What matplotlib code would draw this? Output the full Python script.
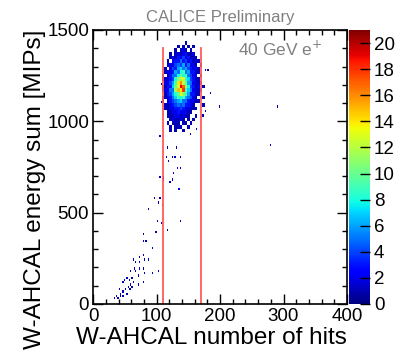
import numpy as np
import matplotlib
matplotlib.use("Agg")
import matplotlib.pyplot as plt
from matplotlib.ticker import MultipleLocator
from matplotlib.colors import Normalize

plt.rcParams['font.family'] = ['Liberation Sans', 'DejaVu Sans']

# ---- data ----
# dense core: counts per cell (columns = hit bins, rows = energy bins, top -> bottom)
core_x_edges = [108, 112, 116, 120, 124, 128, 132, 136, 140, 144, 148, 152, 156, 160, 164, 168, 172, 176]
core_y_top = 1440
core_y_step = 20
core_counts = [
    [0, 0, 0, 0, 0, 0, 0, 0, 0, 1, 0, 0, 0, 0, 0, 0, 0],
    [0, 0, 0, 0, 0, 0, 1, 0, 1, 0, 1, 0, 1, 0, 0, 0, 0],
    [0, 0, 0, 0, 0, 1, 0, 1, 2, 1, 0, 1, 0, 0, 0, 0, 0],
    [0, 0, 0, 1, 0, 1, 2, 1, 2, 3, 1, 1, 2, 0, 0, 0, 0],
    [0, 0, 0, 1, 2, 1, 3, 2, 4, 2, 3, 1, 1, 1, 0, 0, 0],
    [0, 0, 1, 0, 2, 3, 3, 5, 3, 4, 2, 3, 1, 2, 1, 0, 0],
    [0, 0, 1, 2, 2, 4, 5, 4, 6, 3, 5, 2, 2, 1, 0, 1, 0],
    [0, 1, 0, 2, 4, 3, 6, 7, 5, 6, 4, 3, 2, 2, 1, 0, 0],
    [0, 1, 2, 2, 3, 6, 5, 8, 9, 5, 6, 3, 3, 1, 1, 0, 0],
    [1, 0, 1, 3, 5, 5, 8, 10, 8, 9, 5, 4, 2, 2, 0, 1, 0],
    [1, 1, 2, 3, 4, 8, 11, 12, 13, 8, 7, 4, 3, 1, 1, 0, 0],
    [0, 2, 2, 4, 6, 9, 14, 16, 12, 10, 6, 5, 2, 2, 1, 1, 0],
    [1, 1, 3, 3, 7, 10, 13, 19, 17, 11, 8, 4, 3, 1, 2, 0, 1],
    [1, 2, 2, 5, 5, 11, 15, 14, 18, 9, 7, 5, 2, 2, 1, 1, 0],
    [0, 1, 3, 4, 6, 8, 10, 13, 11, 9, 6, 3, 3, 1, 1, 0, 0],
    [1, 1, 2, 3, 5, 7, 9, 8, 9, 6, 5, 4, 2, 1, 0, 0, 1],
    [1, 0, 2, 3, 4, 5, 6, 7, 5, 5, 3, 2, 2, 1, 1, 0, 0],
    [0, 1, 1, 2, 3, 4, 5, 4, 5, 3, 3, 2, 1, 0, 0, 0, 1],
    [0, 1, 1, 2, 2, 3, 3, 4, 3, 2, 2, 1, 1, 1, 0, 0, 0],
    [0, 0, 1, 1, 2, 2, 3, 2, 2, 2, 1, 1, 0, 0, 0, 0, 0],
    [0, 0, 1, 1, 1, 2, 2, 1, 2, 1, 1, 0, 0, 1, 0, 0, 0],
    [0, 0, 0, 1, 2, 1, 1, 2, 1, 0, 1, 0, 1, 0, 0, 0, 0],
    [0, 0, 1, 0, 1, 1, 1, 0, 1, 1, 0, 1, 0, 0, 0, 0, 0],
    [0, 0, 0, 1, 0, 1, 1, 1, 0, 0, 1, 0, 0, 0, 0, 0, 0],
    [0, 0, 0, 1, 0, 1, 0, 0, 1, 0, 0, 0, 0, 0, 0, 0, 0],
]

# sparse single events (hits, energy)
sparse_hits = [106, 106, 105, 116, 130, 185, 181, 177, 176, 173, 163, 152, 132, 127, 110, 134,
               198, 290, 278,
               115, 118, 124, 129, 136, 132, 136, 127, 125, 121, 104, 110, 134, 97, 104, 103, 109,
               86, 136, 100, 106, 98, 117, 79, 83, 78, 93, 78, 63, 67, 73, 80, 87, 72,
               65, 72, 79, 66, 59, 103, 92, 81, 53, 48, 56, 61, 70, 63, 47, 79, 58, 55,
               61, 50, 41, 59, 46, 42, 53, 57, 36, 39, 43, 33, 46, 71]
sparse_energy = [1208, 1108, 916, 861, 861, 1162, 1281, 1281, 1062, 1025, 952, 934, 748, 724, 688, 633,
                 1080, 1080, 865,
                 810, 784, 810, 810, 810, 748, 748, 719, 682, 664, 691, 679, 633, 587, 582, 551, 547,
                 515, 460, 456, 445, 392, 400, 379, 343, 338, 308, 274, 241, 235, 256, 248, 241, 226,
                 199, 199, 199, 181, 182, 177, 166, 168, 141, 131, 135, 146, 155, 120, 120, 117, 104, 91,
                 91, 80, 77, 86, 67, 58, 62, 77, 40, 37, 40, 37, 49, 104]

cut_low = 110
cut_high = 170
cut_top = 1400

x_ticks = [0, 100, 200, 300, 400]
y_ticks = [0, 500, 1000, 1500]
cbar_ticks = [0, 2, 4, 6, 8, 10, 12, 14, 16, 18, 20]

# ---- plot ----
fig = plt.figure(figsize=(4.0, 3.57), dpi=100)
ax = fig.add_axes([0.2333, 0.1485, 0.634, 0.7675])
cax = fig.add_axes([0.8725, 0.1485, 0.052, 0.7675])

norm = Normalize(vmin=0, vmax=21)
cmap = plt.get_cmap('jet').copy()
cmap.set_bad('white', 0)

# sparse layer
xe = np.arange(0, 402, 2)
ye = np.arange(0, 1512.5, 12.5)
H, _, _ = np.histogram2d(sparse_hits, sparse_energy, bins=[xe, ye])
H = np.ma.masked_equal(H.T, 0)
ax.pcolormesh(xe, ye, H, cmap=cmap, norm=norm, shading='flat')

# core layer
cc = np.array(core_counts, dtype=float)[::-1]
cy_edges = core_y_top - core_y_step * np.arange(len(core_counts) + 1)
cy_edges = cy_edges[::-1]
cm = ax.pcolormesh(core_x_edges, cy_edges, np.ma.masked_equal(cc, 0), cmap=cmap, norm=norm, shading='flat')

# cut lines
for xc in (cut_low, cut_high):
    ax.plot([xc, xc], [0, cut_top], color='#ff5a5a', lw=1.3)

ax.set_xlim(0, 400)
ax.set_ylim(0, 1500)
ax.set_xticks(x_ticks)
ax.set_yticks(y_ticks)
ax.xaxis.set_minor_locator(MultipleLocator(20))
ax.yaxis.set_minor_locator(MultipleLocator(100))
ax.tick_params(which='both', direction='in', top=True, right=True, labelsize=13.5, pad=3)
ax.tick_params(which='major', length=7, width=1)
ax.tick_params(which='minor', length=3.5, width=1)
for s in ax.spines.values():
    s.set_linewidth(1.2)

ax.set_xlabel('W-AHCAL number of hits', fontsize=17.5, labelpad=1, loc='right')
ax.set_ylabel('W-AHCAL energy sum [MIPs]', fontsize=17.5, labelpad=1, loc='top')

ax.text(0.5, 1.02, 'CALICE Preliminary', transform=ax.transAxes, ha='center', va='bottom',
        fontsize=12, color='#808080')
ax.text(0.905, 0.93, '40 GeV e$^{+}$', transform=ax.transAxes, ha='right', va='center',
        fontsize=12.5, color='#808080')

cb = fig.colorbar(cm, cax=cax, ticks=cbar_ticks)
cb.outline.set_visible(False)
cax.tick_params(direction='in', length=7, width=1, labelsize=13.5, pad=3)

fig.savefig('out.png', dpi=100)
